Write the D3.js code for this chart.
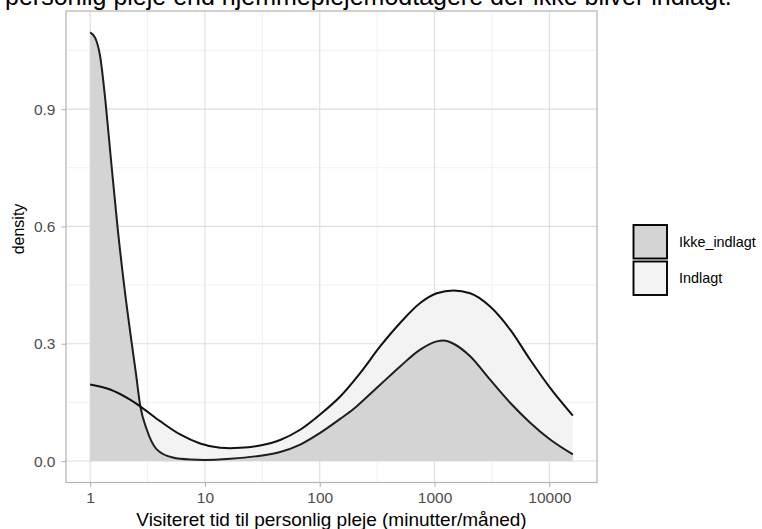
<!DOCTYPE html>
<html>
<head>
<meta charset="utf-8">
<script src="https://cdn.jsdelivr.net/npm/d3@7/dist/d3.min.js"></script>
<style>
  body { margin: 0; background: #fff; }
  text { font-family: "Liberation Sans", Arial, Helvetica, sans-serif; }
</style>
</head>
<body>
<svg id="chart" width="762" height="529"></svg>
<script>
// Density of visited personal-care time (minutes per month), by admission status
const groups = ["Ikke_indlagt", "Indlagt"];

const ikkeMinutes = [1, 1.107, 1.222, 1.365, 1.514, 1.73, 1.995, 2.307, 2.512, 2.729,
  3.119, 3.802, 5.248, 7.413, 10, 16.6, 27.5, 45.2, 67.5, 100.7, 150.7, 196.8, 224.9,
  335.7, 501.2, 749.9, 1047, 1197, 1462, 2042, 3048, 4560, 6808, 10160, 16030];
const ikkeDensity = [1.096, 1.082, 1.035, 0.915, 0.775, 0.6, 0.44, 0.3, 0.222, 0.142,
  0.08, 0.03, 0.009, 0.004, 0.003, 0.006, 0.012, 0.023, 0.042, 0.072, 0.108, 0.133, 0.148,
  0.195, 0.242, 0.285, 0.306, 0.308, 0.3, 0.268, 0.208, 0.149, 0.098, 0.055, 0.017];

const indlagtMinutes = [1, 1.493, 2.228, 2.729, 4.074, 6.081, 9.078, 13.55, 16.6, 20.28,
  30.27, 45.2, 67.5, 100.7, 150.7, 224.9, 335.7, 501.2, 749.9, 1047, 1462, 2042, 3048,
  4560, 6808, 10160, 16030];
const indlagtDensity = [0.196, 0.183, 0.157, 0.14, 0.102, 0.068, 0.045, 0.034, 0.033, 0.034,
  0.04, 0.054, 0.08, 0.119, 0.165, 0.225, 0.293, 0.353, 0.404, 0.429, 0.436, 0.429, 0.395,
  0.336, 0.259, 0.187, 0.116];

const yMajor = [0, 0.3, 0.6, 0.9];
const yMinor = [0.15, 0.45, 0.75, 1.05];
const xMajor = [1, 10, 100, 1000, 10000];
const xMinor = [3.1623, 31.623, 316.23, 3162.3];

const titleText = "personlig pleje end hjemmeplejemodtagere der ikke bliver indlagt.";
const xTitle = "Visiteret tid til personlig pleje (minutter/måned)";
const yTitle = "density";

const fills = { "Ikke_indlagt": "#d4d4d4", "Indlagt": "#f3f3f3" };

const series = {
  "Ikke_indlagt": ikkeMinutes.map((m, i) => ({ m, d: ikkeDensity[i] })),
  "Indlagt": indlagtMinutes.map((m, i) => ({ m, d: indlagtDensity[i] }))
};

const panel = { left: 66, right: 597, top: 11, bottom: 482.5 };
const svg = d3.select("#chart");

// Scales with 5% expansion on each side, like ggplot's continuous defaults
const allM = ikkeMinutes.concat(indlagtMinutes);
const allD = ikkeDensity.concat(indlagtDensity);
const lmin = Math.log10(d3.min(allM)), lmax = Math.log10(d3.max(allM));
const lpad = (lmax - lmin) * 0.05;
const x = d3.scaleLog()
  .domain([Math.pow(10, lmin - lpad), Math.pow(10, lmax + lpad)])
  .range([panel.left, panel.right]);
const dmax = d3.max(allD);
const y = d3.scaleLinear()
  .domain([-0.05 * dmax, 1.05 * dmax])
  .range([panel.bottom, panel.top]);

// Title (first line sits above the canvas)
svg.append("text")
  .attr("x", 5).attr("y", 4.5)
  .attr("font-size", 25).attr("fill", "#000")
  .text(titleText);

// Grid
const grid = svg.append("g");
grid.selectAll(".ymin").data(yMinor).enter().append("line")
  .attr("x1", panel.left).attr("x2", panel.right)
  .attr("y1", d => y(d)).attr("y2", d => y(d))
  .attr("stroke", "#ebebeb").attr("stroke-width", 0.7);
grid.selectAll(".xmin").data(xMinor).enter().append("line")
  .attr("y1", panel.top).attr("y2", panel.bottom)
  .attr("x1", d => x(d)).attr("x2", d => x(d))
  .attr("stroke", "#ebebeb").attr("stroke-width", 0.7);
grid.selectAll(".ymaj").data(yMajor).enter().append("line")
  .attr("x1", panel.left).attr("x2", panel.right)
  .attr("y1", d => y(d)).attr("y2", d => y(d))
  .attr("stroke", "#dedede").attr("stroke-width", 1.1);
grid.selectAll(".xmaj").data(xMajor).enter().append("line")
  .attr("y1", panel.top).attr("y2", panel.bottom)
  .attr("x1", d => x(d)).attr("x2", d => x(d))
  .attr("stroke", "#dedede").attr("stroke-width", 1.1);

// Density areas and their upper outlines
const area = d3.area().x(d => x(d.m)).y0(y(0)).y1(d => y(d.d)).curve(d3.curveMonotoneX);
const line = d3.line().x(d => x(d.m)).y(d => y(d.d)).curve(d3.curveMonotoneX);

const marks = svg.append("g");
["Indlagt", "Ikke_indlagt"].forEach(g => {
  marks.append("path").datum(series[g]).attr("d", area)
    .attr("fill", fills[g]).attr("stroke", "none");
});
marks.append("path").datum(series["Ikke_indlagt"]).attr("d", line)
  .attr("fill", "none").attr("stroke", "#1e1e1e").attr("stroke-width", 2);
marks.append("path").datum(series["Indlagt"]).attr("d", line)
  .attr("fill", "none").attr("stroke", "#111").attr("stroke-width", 2);

// Panel border
svg.append("rect")
  .attr("x", panel.left).attr("y", panel.top)
  .attr("width", panel.right - panel.left).attr("height", panel.bottom - panel.top)
  .attr("fill", "none").attr("stroke", "#b3b3b3").attr("stroke-width", 1.2);

// Axes
const yAxis = svg.append("g").attr("transform", `translate(${panel.left},0)`)
  .call(d3.axisLeft(y).tickValues(yMajor).tickFormat(d3.format(".1f")).tickSize(4.5).tickPadding(6));
const xAxis = svg.append("g").attr("transform", `translate(0,${panel.bottom})`)
  .call(d3.axisBottom(x).tickValues(xMajor).tickFormat(d3.format("d")).tickSize(4.5).tickPadding(5));
[yAxis, xAxis].forEach(a => {
  a.select(".domain").remove();
  a.selectAll(".tick line").attr("stroke", "#b3b3b3").attr("stroke-width", 1.1);
  a.selectAll(".tick text").attr("fill", "#4d4d4d").attr("font-size", 15.5)
    .style("font-family", '"Liberation Sans", Arial, sans-serif');
});

// Axis titles
svg.append("text")
  .attr("x", (panel.left + panel.right) / 2).attr("y", 525.5)
  .attr("text-anchor", "middle").attr("font-size", 19).attr("fill", "#000")
  .text(xTitle);
svg.append("text")
  .attr("transform", "translate(24,229) rotate(-90)")
  .attr("text-anchor", "middle").attr("font-size", 16).attr("fill", "#000")
  .text(yTitle);

// Legend
const legend = svg.append("g");
groups.forEach((g, i) => {
  const ky = 225 + i * 36.5;
  legend.append("rect")
    .attr("x", 633.5).attr("y", ky).attr("width", 33.5).attr("height", 33.5)
    .attr("fill", fills[g]).attr("stroke", "#000").attr("stroke-width", 1.9);
  legend.append("text")
    .attr("x", 679).attr("y", ky + 16.75).attr("dy", "0.35em")
    .attr("font-size", 14.4).attr("fill", "#000")
    .text(g);
});
</script>
</body>
</html>
